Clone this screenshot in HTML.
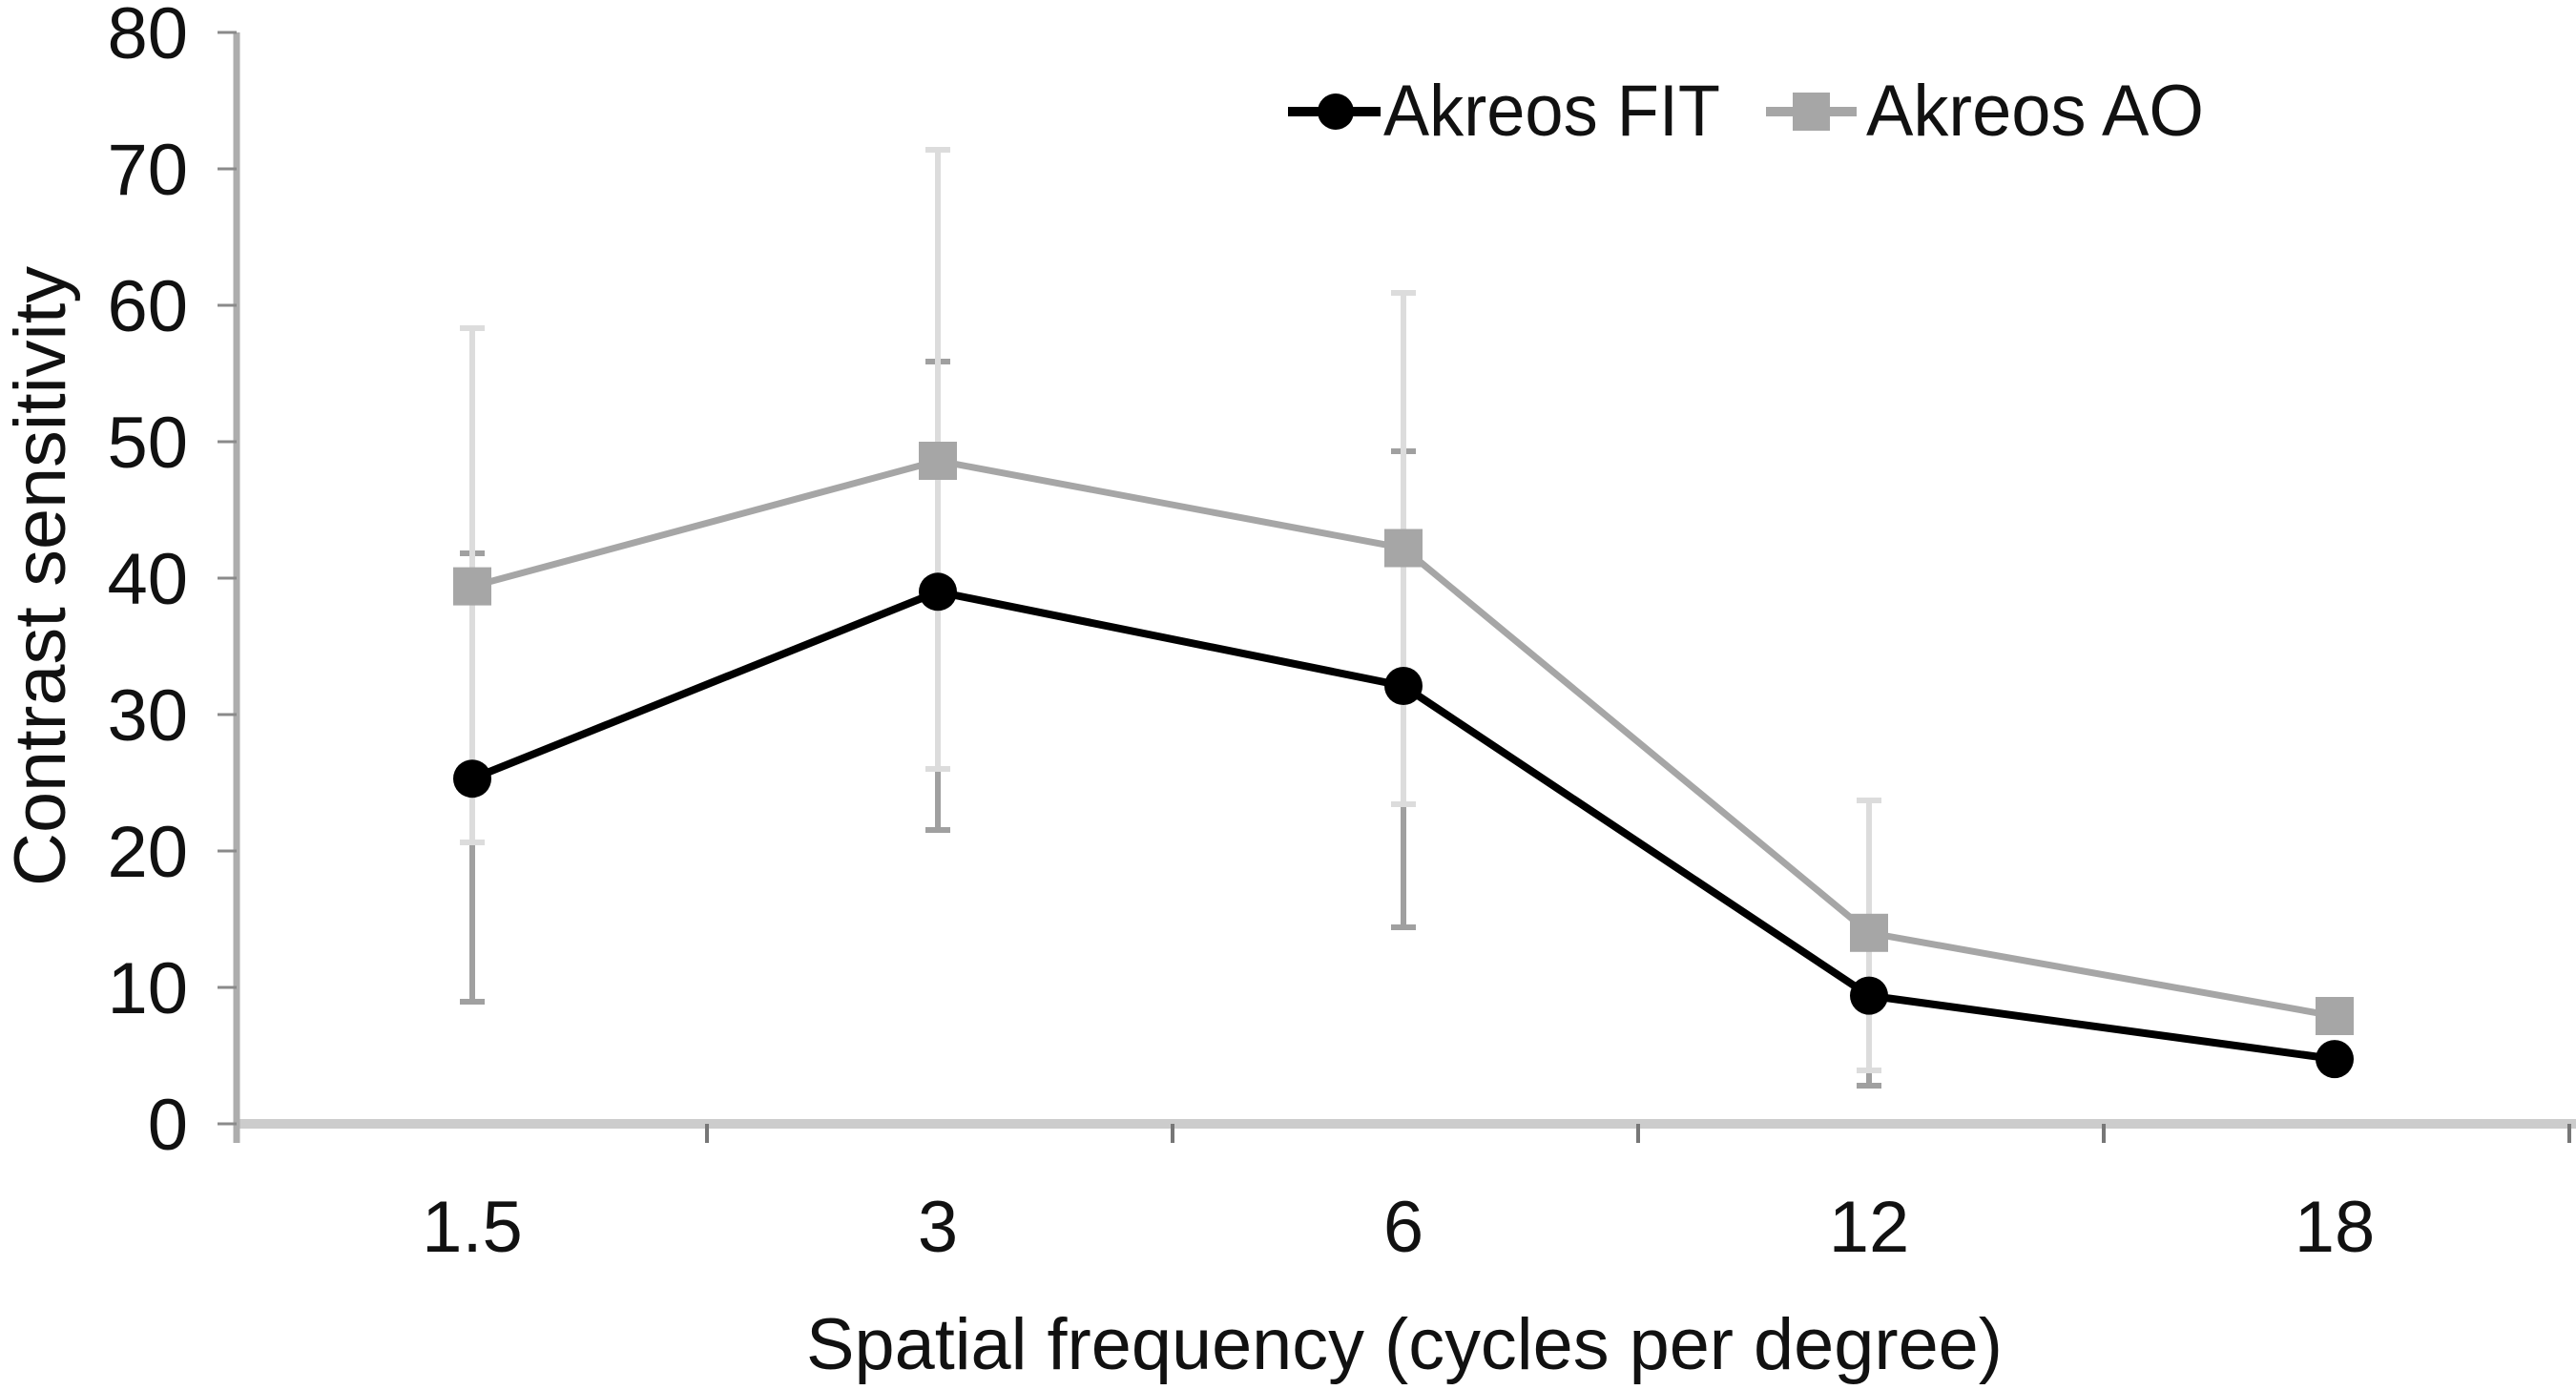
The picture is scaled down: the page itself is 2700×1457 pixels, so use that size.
<!DOCTYPE html>
<html>
<head>
<meta charset="utf-8">
<style>
html,body{margin:0;padding:0;background:#fff;}
svg{display:block;}
text{font-family:"Liberation Sans",Arial,sans-serif;fill:#111;}
</style>
</head>
<body>
<svg width="2700" height="1457" viewBox="0 0 2700 1457" xmlns="http://www.w3.org/2000/svg">
<rect width="2700" height="1457" fill="#fff"/>

<!-- axes -->
<line x1="248" y1="1178" x2="2700" y2="1178" stroke="#cccccc" stroke-width="10"/>
<line x1="248" y1="34" x2="248" y2="1198" stroke="#adadad" stroke-width="7"/>
<g stroke="#8a8a8a" stroke-width="3">
<line x1="228" y1="34" x2="248" y2="34"/>
<line x1="228" y1="177" x2="248" y2="177"/>
<line x1="228" y1="320" x2="248" y2="320"/>
<line x1="228" y1="463" x2="248" y2="463"/>
<line x1="228" y1="606" x2="248" y2="606"/>
<line x1="228" y1="749" x2="248" y2="749"/>
<line x1="228" y1="892" x2="248" y2="892"/>
<line x1="228" y1="1035" x2="248" y2="1035"/>
<line x1="228" y1="1178" x2="248" y2="1178"/>
</g>
<g stroke="#777" stroke-width="4">
<line x1="741" y1="1178" x2="741" y2="1198"/>
<line x1="1229" y1="1178" x2="1229" y2="1198"/>
<line x1="1717" y1="1178" x2="1717" y2="1198"/>
<line x1="2205" y1="1178" x2="2205" y2="1198"/>
<line x1="2693" y1="1178" x2="2693" y2="1198"/>
</g>

<!-- y tick labels -->
<g font-size="76" text-anchor="end">
<text x="197" y="61">80</text>
<text x="197" y="204">70</text>
<text x="197" y="347">60</text>
<text x="197" y="490">50</text>
<text x="197" y="633">40</text>
<text x="197" y="776">30</text>
<text x="197" y="919">20</text>
<text x="197" y="1062">10</text>
<text x="197" y="1205">0</text>
</g>

<!-- x tick labels -->
<g font-size="76" text-anchor="middle">
<text x="495" y="1312">1.5</text>
<text x="983" y="1312">3</text>
<text x="1471" y="1312">6</text>
<text x="1959" y="1312">12</text>
<text x="2447" y="1312">18</text>
</g>

<!-- axis titles -->
<text x="845" y="1435" font-size="76" textLength="1254" lengthAdjust="spacingAndGlyphs">Spatial frequency (cycles per degree)</text>
<text transform="translate(68,604) rotate(-90)" x="0" y="0" font-size="76" text-anchor="middle" textLength="650" lengthAdjust="spacingAndGlyphs">Contrast sensitivity</text>

<!-- FIT error bars -->
<g stroke="#a0a0a0" stroke-width="6">
<line x1="495" y1="580" x2="495" y2="1050"/><line x1="482" y1="580" x2="508" y2="580"/><line x1="482" y1="1050" x2="508" y2="1050"/>
<line x1="983" y1="379" x2="983" y2="870"/><line x1="970" y1="379" x2="996" y2="379"/><line x1="970" y1="870" x2="996" y2="870"/>
<line x1="1471" y1="473" x2="1471" y2="972"/><line x1="1458" y1="473" x2="1484" y2="473"/><line x1="1458" y1="972" x2="1484" y2="972"/>
<line x1="1959" y1="949" x2="1959" y2="1138"/><line x1="1946" y1="1138" x2="1972" y2="1138"/>
</g>
<!-- AO error bars -->
<g stroke="#dcdcdc" stroke-width="6">
<line x1="495" y1="344" x2="495" y2="883"/><line x1="482" y1="344" x2="508" y2="344"/><line x1="482" y1="883" x2="508" y2="883"/>
<line x1="983" y1="157" x2="983" y2="806"/><line x1="970" y1="157" x2="996" y2="157"/><line x1="970" y1="806" x2="996" y2="806"/>
<line x1="1471" y1="307" x2="1471" y2="843"/><line x1="1458" y1="307" x2="1484" y2="307"/><line x1="1458" y1="843" x2="1484" y2="843"/>
<line x1="1959" y1="839" x2="1959" y2="1122"/><line x1="1946" y1="839" x2="1972" y2="839"/><line x1="1946" y1="1122" x2="1972" y2="1122"/>
</g>

<!-- AO series -->
<polyline points="495,614.6 983,483 1471,574.5 1959,977.8 2447,1065" fill="none" stroke="#a6a6a6" stroke-width="7" stroke-linejoin="round"/>
<g fill="#a6a6a6">
<rect x="475" y="594.6" width="40" height="40"/>
<rect x="963" y="463" width="40" height="40"/>
<rect x="1451" y="554.5" width="40" height="40"/>
<rect x="1939" y="957.8" width="40" height="40"/>
<rect x="2427" y="1045" width="40" height="40"/>
</g>

<!-- FIT series -->
<polyline points="495,816.2 983,620.3 1471,719 1959,1043.6 2447,1110.1" fill="none" stroke="#000" stroke-width="8" stroke-linejoin="round"/>
<g fill="#000">
<circle cx="495" cy="816.2" r="20"/>
<circle cx="983" cy="620.3" r="20"/>
<circle cx="1471" cy="719" r="20"/>
<circle cx="1959" cy="1043.6" r="20"/>
<circle cx="2447" cy="1110.1" r="20"/>
</g>

<!-- legend -->
<line x1="1350" y1="117" x2="1447" y2="117" stroke="#000" stroke-width="10"/>
<circle cx="1400" cy="117" r="19" fill="#000"/>
<text x="1450" y="142" font-size="76" textLength="353" lengthAdjust="spacingAndGlyphs">Akreos FIT</text>
<line x1="1851" y1="117" x2="1946" y2="117" stroke="#a6a6a6" stroke-width="10"/>
<rect x="1879" y="97" width="39" height="40" fill="#a6a6a6"/>
<text x="1956" y="142" font-size="76" textLength="354" lengthAdjust="spacingAndGlyphs">Akreos AO</text>
</svg>
</body>
</html>
